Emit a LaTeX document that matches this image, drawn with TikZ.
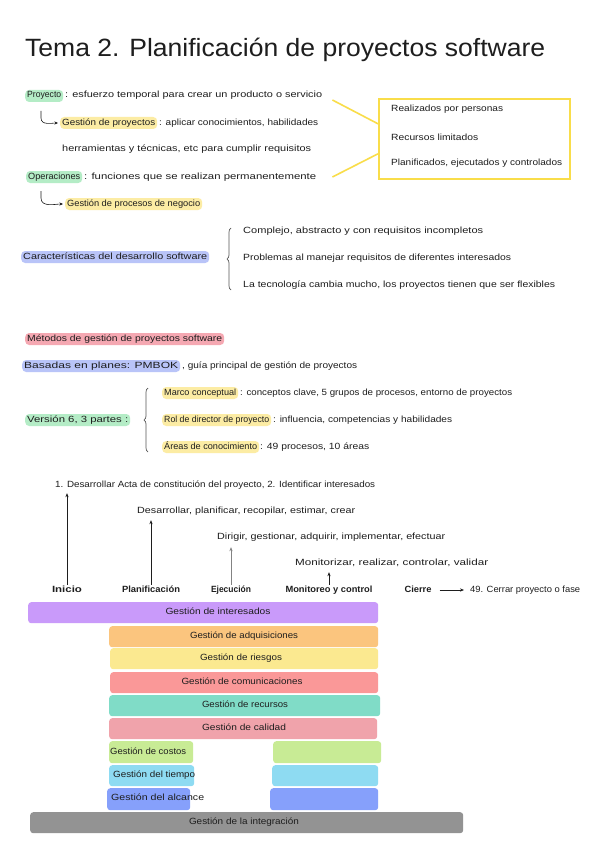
\documentclass[tikz,border=0pt]{standalone}
\usepackage{fontspec}
\setmainfont{Liberation Sans}
\usetikzlibrary{decorations.pathreplacing,arrows.meta,calc}
\newlength\fwl
\newcommand{\fw}[2]{\settowidth{\fwl}{#2}\pgfmathsetmacro\fwf{#1/\fwl}\scalebox{\fwf}[1]{#2}}
\definecolor{ink}{HTML}{1E1E1E}
\definecolor{hgreen}{HTML}{B4ECC6}
\definecolor{hyellow}{HTML}{FCECA4}
\definecolor{hblue}{HTML}{B9C4F8}
\definecolor{hpink}{HTML}{F5A8B2}
\definecolor{ylw}{HTML}{F9DD4A}
\definecolor{cint}{HTML}{C99AFA}
\definecolor{cadq}{HTML}{FBC57E}
\definecolor{crie}{HTML}{FBE990}
\definecolor{ccom}{HTML}{FA9898}
\definecolor{crec}{HTML}{80DCC7}
\definecolor{ccal}{HTML}{F0A3AB}
\definecolor{ccos}{HTML}{C8EB95}
\definecolor{ctie}{HTML}{8EDBF2}
\definecolor{calc}{HTML}{86A0FB}
\definecolor{cintg}{HTML}{939393}
\begin{document}
\begin{tikzpicture}[x=1pt,y=-1pt,
  body/.style={font=\fontsize{9}{10}\selectfont, text=ink},
  txt/.style={body, anchor=west, inner sep=0pt, text height=6pt, text depth=2pt},
  ctxt/.style={body, anchor=center, inner sep=0pt, text height=6pt, text depth=2pt},
  lbl/.style={font=\fontsize{9}{10}\selectfont\bfseries, text=ink, anchor=center, inner sep=0pt, text height=6pt, text depth=2pt},
  hl/.style={body, anchor=west, inner xsep=2pt, inner ysep=2pt, text height=6pt, text depth=2pt, rounded corners=4pt},
  hook/.style={draw=ink, line width=0.6pt, -{Stealth[length=3.5pt,width=3pt]}},
  arr/.style={draw=ink, line width=0.7pt, -{Stealth[length=4pt,width=3.2pt]}},
  ylwline/.style={draw=ylw, line width=1.6pt},
  bracestyle/.style={draw=ink!75, line width=0.7pt, decorate, decoration={brace, amplitude=4pt}},
  bar/.style={rounded corners=3pt, draw=none, anchor=north west, inner sep=0pt}
]
\useasboundingbox[fill=white] (0,0) rectangle (600,848);

% Title
\node[anchor=base west, inner sep=0pt, text=ink, font=\fontsize{25}{25}\selectfont] (title) at (25,57) {\fw{520}{Tema 2. Planificación de proyectos software}};

% Proyecto block
\node[hl, fill=hgreen] (proy) at (25,96) {\fw{34}{Proyecto}};
\node[txt] (proyt) at (65,96) {\fw{257}{: esfuerzo temporal para crear un producto o servicio}};
\node[hl, fill=hyellow] (gp) at (60,123) {\fw{93}{Gestión de proyectos}};
\node[txt] (gpt) at (159,123) {\fw{159}{: aplicar conocimientos, habilidades}};
\node[txt] (herr) at (62,149) {\fw{249}{herramientas y técnicas, etc para cumplir requisitos}};
\node[hl, fill=hgreen] (oper) at (26,177) {\fw{52}{Operaciones}};
\node[txt] (opert) at (84,177) {\fw{232}{: funciones que se realizan permanentemente}};
\node[hl, fill=hyellow] (gpn) at (65,204) {\fw{133}{Gestión de procesos de negocio}};

\coordinate (h1) at (41,111);
\coordinate (h2) at (41,191);
\draw[hook, shorten >=2pt] (h1) -- ++(0,7) to[out=-90,in=180] (gp.west);
\draw[hook, shorten >=2pt] (h2) -- ++(0,7) to[out=-90,in=180] (gpn.west);

% Yellow box
\node[draw=ylw, line width=1.6pt, minimum width=191pt, minimum height=80pt, anchor=north west, inner sep=0pt] (box) at (378,98) {};
\draw[ylwline] ($(proyt.east)+(10,4)$) -- ($(box.west)+(0,-15)$);
\draw[ylwline] ($(opert.east)+(16,0)$) -- ($(box.west)+(0,15)$);
\node[txt] (r1) at (391,110) {\fw{112}{Realizados por personas}};
\node[txt] (r2) at (391,138) {\fw{87}{Recursos limitados}};
\node[txt] (r3) at (391,163) {\fw{171}{Planificados, ejecutados y controlados}};

% Caracteristicas
\node[hl, fill=hblue] (car) at (21,257) {\fw{184}{Características del desarrollo software}};
\coordinate (b1a) at (231,290);
\coordinate (b1b) at (231,228);
\draw[bracestyle] (b1a) -- (b1b);
\node[txt] (c1) at (243,231) {\fw{240}{Complejo, abstracto y con requisitos incompletos}};
\node[txt] (c2) at (243,258) {\fw{268}{Problemas al manejar requisitos de diferentes interesados}};
\node[txt] (c3) at (243,285) {\fw{312}{La tecnología cambia mucho, los proyectos tienen que ser flexibles}};

% Metodos
\node[hl, fill=hpink] (met) at (25,339) {\fw{195}{Métodos de gestión de proyectos software}};
\node[hl, fill=hblue] (bas) at (22,366) {\fw{154}{Basadas en planes: PMBOK}};
\node[txt] (bast) at (182,366) {\fw{175}{, guía principal de gestión de proyectos}};
\node[hl, fill=hgreen] (ver) at (25,420) {\fw{101}{Versión 6, 3 partes :}};
\coordinate (b2a) at (148,452);
\coordinate (b2b) at (148,388);
\draw[bracestyle] (b2a) -- (b2b);
\node[hl, fill=hyellow] (marco) at (162,393) {\fw{72}{Marco conceptual}};
\node[txt] (marcot) at (240,393) {\fw{272}{: conceptos clave, 5 grupos de procesos, entorno de proyectos}};
\node[hl, fill=hyellow] (rol) at (162,420) {\fw{105}{Rol de director de proyecto}};
\node[txt] (rolt) at (273,420) {\fw{179}{: influencia, competencias y habilidades}};
\node[hl, fill=hyellow] (areas) at (162,447) {\fw{93}{Áreas de conocimiento}};
\node[txt] (areast) at (260,447) {\fw{109}{: 49 procesos, 10 áreas}};

% Process groups
\node[txt] (t1) at (55,485) {\fw{320}{1. Desarrollar Acta de constitución del proyecto, 2. Identificar interesados}};
\node[txt] (t2) at (137,511) {\fw{218}{Desarrollar, planificar, recopilar, estimar, crear}};
\node[txt] (t3) at (217,537) {\fw{228}{Dirigir, gestionar, adquirir, implementar, efectuar}};
\node[txt] (t4) at (295,563) {\fw{193}{Monitorizar, realizar, controlar, validar}};
\node[lbl] (ini) at (67,590) {\fw{30}{Inicio}};
\node[lbl] (plan) at (151,590) {\fw{58}{Planificación}};
\node[lbl] (ejec) at (231,590) {\fw{40}{Ejecución}};
\node[lbl] (moni) at (329,590) {\fw{87}{Monitoreo y control}};
\node[lbl] (cie) at (418,590) {\fw{27}{Cierre}};
\node[txt] (t49) at (470,590) {\fw{110}{49. Cerrar proyecto o fase}};
\draw[arr, shorten <=1pt, shorten >=4pt] (ini.north) -- (ini.north |- t1.south);
\draw[arr, shorten <=1pt, shorten >=5pt] (plan.north) -- (plan.north |- t2.south);
\draw[arr, draw=ink!55, shorten <=1pt, shorten >=6pt] (ejec.north) -- (ejec.north |- t3.south);
\draw[arr, shorten <=1pt, shorten >=5pt] (moni.north) -- (moni.north |- t4.south);
\draw[arr, line width=0.6pt, shorten <=8pt, shorten >=6pt] (cie.east) -- (t49.west);

% Knowledge area bars
\node[bar, fill=cint, minimum width=350pt, minimum height=21pt] (bint) at (28,602) {};
\node[bar, fill=cadq, minimum width=269pt, minimum height=21pt] (badq) at (109,626) {};
\node[bar, fill=crie, minimum width=268pt, minimum height=21pt] (brie) at (110,648) {};
\node[bar, fill=ccom, minimum width=268pt, minimum height=21pt] (bcom) at (110,672) {};
\node[bar, fill=crec, minimum width=271pt, minimum height=21pt] (brec) at (109,695) {};
\node[bar, fill=ccal, minimum width=268pt, minimum height=21pt] (bcal) at (109,718) {};
\node[bar, fill=ccos, minimum width=84pt, minimum height=22pt] (bcosl) at (109,741) {};
\node[bar, fill=ccos, minimum width=108pt, minimum height=22pt] (bcosr) at (273,741) {};
\node[bar, fill=ctie, minimum width=85pt, minimum height=21pt] (btiel) at (109,765) {};
\node[bar, fill=ctie, minimum width=106pt, minimum height=21pt] (btier) at (272,765) {};
\node[bar, fill=calc, minimum width=83pt, minimum height=22pt] (balcl) at (107,788) {};
\node[bar, fill=calc, minimum width=108pt, minimum height=22pt] (balcr) at (270,788) {};
\node[bar, fill=cintg, minimum width=433pt, minimum height=21pt] (bintg) at (30,812) {};

\node[ctxt] (lint) at (218,612) {\fw{105}{Gestión de interesados}};
\node[ctxt] (ladq) at (244,636) {\fw{108}{Gestión de adquisiciones}};
\node[ctxt] (lrie) at (241,658) {\fw{82}{Gestión de riesgos}};
\node[ctxt] (lcom) at (242,682) {\fw{121}{Gestión de comunicaciones}};
\node[ctxt] (lrec) at (245,705) {\fw{86}{Gestión de recursos}};
\node[ctxt] (lcal) at (244,728) {\fw{84}{Gestión de calidad}};
\node[txt] (lcos) at (110,752) {\fw{76}{Gestión de costos}};
\node[txt] (ltie) at (113,775) {\fw{82}{Gestión del tiempo}};
\node[txt] (lalc) at (111,798) {\fw{93}{Gestión del alcance}};
\node[ctxt] (lintg) at (244,822) {\fw{110}{Gestión de la integración}};
\end{tikzpicture}
\end{document}
